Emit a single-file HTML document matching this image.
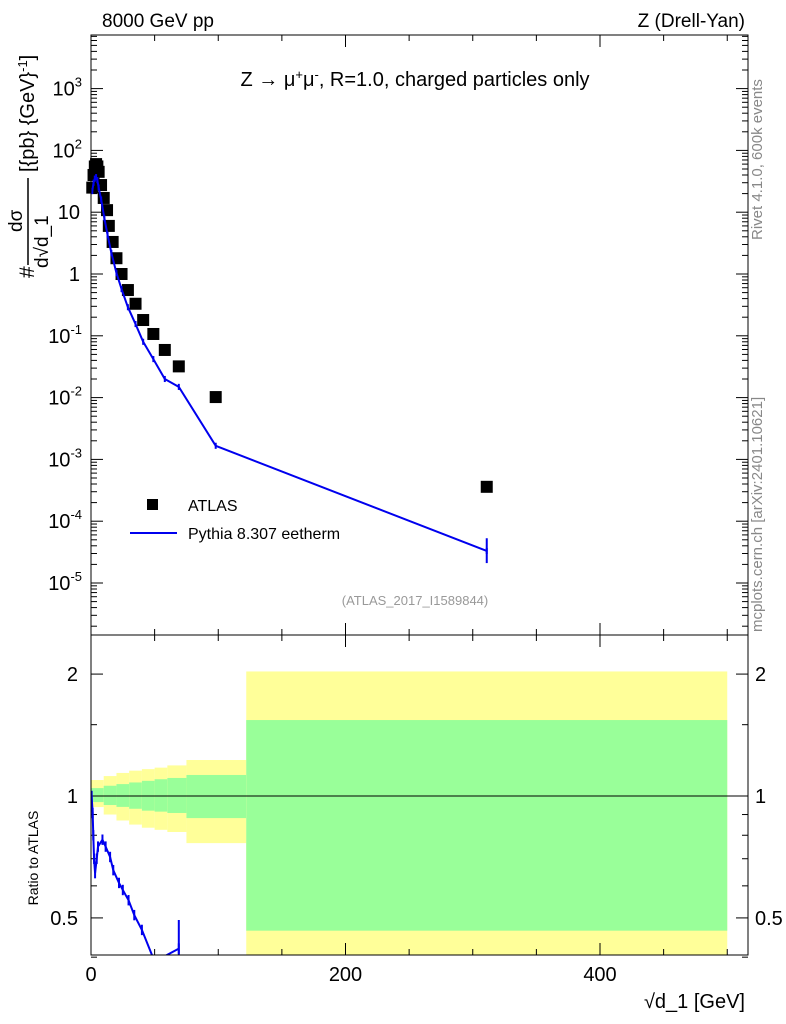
<!DOCTYPE html>
<html><head><meta charset="utf-8"><style>
body{margin:0;background:#fff;}
svg{display:block;font-family:"Liberation Sans",sans-serif;}
</style></head><body>
<svg id="c" width="786" height="1024" viewBox="0 0 786 1024">
<g id="bands"></g>
<g id="ticks"></g>
<g id="marks"></g>
<rect x="91" y="35" width="657" height="600" fill="none" stroke="#000" stroke-width="1"/>
<rect x="91" y="635" width="657" height="320" fill="none" stroke="#000" stroke-width="1"/>
<text x="102" y="27" font-size="19">8000 GeV pp</text>
<text x="745" y="27" font-size="19" text-anchor="end">Z (Drell-Yan)</text>
<text x="415" y="86" font-size="20" text-anchor="middle">Z → μ<tspan font-size="13" dy="-7">+</tspan><tspan dy="7">μ</tspan><tspan font-size="13" dy="-7">-</tspan><tspan dy="7">, R=1.0, charged particles only</tspan></text>
<text x="415" y="605" font-size="13" fill="#999" text-anchor="middle">(ATLAS_2017_I1589844)</text>
<text transform="translate(762,240) rotate(-90)" font-size="15" fill="#888">Rivet 4.1.0,  600k events</text>
<text transform="translate(762,632) rotate(-90)" font-size="15" fill="#888">mcplots.cern.ch [arXiv:2401.10621]</text>
<g>
<text transform="translate(34,278) rotate(-90)" font-size="21">#</text>
<text transform="translate(22,232) rotate(-90)" font-size="19">dσ</text>
<line x1="28" y1="265" x2="28" y2="178" stroke="#000" stroke-width="1.5"/>
<text transform="translate(48,268) rotate(-90)" font-size="19">d√d_1</text>
<text transform="translate(34,172) rotate(-90)" font-size="20">[{pb} {GeV}<tspan font-size="13" dy="-7">-1</tspan><tspan dy="7">]</tspan></text>
</g>
<text transform="translate(38,858) rotate(-90)" font-size="14" text-anchor="middle">Ratio to ATLAS</text>
<text x="745" y="1008" font-size="20" text-anchor="end">√d_1 [GeV]</text>
<g>
<rect x="147" y="499" width="11" height="11" fill="#000"/>
<text x="188" y="511" font-size="16">ATLAS</text>
<line x1="130" y1="533" x2="177" y2="533" stroke="#0000ee" stroke-width="2"/>
<text x="188" y="539" font-size="16">Pythia 8.307 eetherm</text>
</g>
</svg>
<script>
const dataX=[1,2,3,4,5,6,7.9,10,12.6,14,17,20,24,29,35,41,49,58,69,98,311];
const dataY=[25,40,55,60,55,45,27.5,17,10.8,6,3.3,1.8,1.0,0.55,0.33,0.18,0.107,0.059,0.032,0.0102,3.6e-4];
const mcX=[1,2,3,4,5,6,8,10.5,13,16,20,24,29,35,41,49,58,69,98,311];
const mcY=[22,30,35,37,33,25,16,8.0,4.3,2.2,1.04,0.57,0.29,0.155,0.08,0.042,0.020,0.0149,0.00166,3.3e-5];
const ratioX=[0.5,1.3,1.8,2.4,3.2,4.5,5.5,9,11.5,15,17.5,22,25,29.5,34,40,50,69];
const ratioY=[1.0,0.908,0.80,0.70,0.645,0.70,0.75,0.78,0.75,0.707,0.656,0.61,0.586,0.553,0.508,0.467,0.39,0.42];
const bandEdges=[0,10,20,30,40,50,60,75,122,500];
const yelUp=[1.095,1.12,1.14,1.155,1.165,1.175,1.19,1.227,2.03];
const grnUp=[1.046,1.06,1.07,1.08,1.09,1.10,1.108,1.127,1.54];
const grnLo=[0.966,0.95,0.94,0.93,0.92,0.915,0.908,0.882,0.465];
const yelLo=[0.939,0.90,0.87,0.85,0.835,0.825,0.815,0.765,0.30];
const mainTicks=[3,2,1,0,-1,-2,-3,-4,-5];
const xTicks=[0,200,400];
const ratioTicks=[2,1,0.5];
const NS='http://www.w3.org/2000/svg';
const X=v=>91+v*1.2725;
const Y=v=>274-Math.log10(v)*61.8;
const R=v=>796-Math.log10(v)*405;
function el(t,a,p){const e=document.createElementNS(NS,t);for(const k in a)e.setAttribute(k,a[k]);(p||document.getElementById('marks')).appendChild(e);return e;}
const bands=document.getElementById('bands');
for(let i=0;i<bandEdges.length-1;i++){
 const x0=X(bandEdges[i]),x1=Math.min(X(bandEdges[i+1]),X(500));
 const top=Math.max(R(yelUp[i]),635),bot=Math.min(R(yelLo[i]),955);
 const y=el('rect',{x:x0,y:top,width:x1-x0,height:bot-top,fill:'#ffff99'},bands);
 
 
 const g=el('rect',{x:x0,y:R(grnUp[i]),width:x1-x0,height:R(grnLo[i])-R(grnUp[i]),fill:'#99ff99'},bands);
 
 
}
const tk=document.getElementById('ticks');
el('line',{x1:91,y1:796,x2:748,y2:796,stroke:'#000'},tk);
mainTicks.forEach(p=>{
 const y=Y(Math.pow(10,p));
 el('line',{x1:91,y1:y,x2:103,y2:y,stroke:'#000'},tk);el('line',{x1:736,y1:y,x2:748,y2:y,stroke:'#000'},tk);
 for(let m=2;m<10;m++){const ym=Y(m*Math.pow(10,p));if(ym>35){el('line',{x1:91,y1:ym,x2:97,y2:ym,stroke:'#000'},tk);el('line',{x1:742,y1:ym,x2:748,y2:ym,stroke:'#000'},tk);}}
 const t=el('text',{x:80,y:y+7,'font-size':20,'text-anchor':'end'},tk);
 if(p===0)t.textContent='1';else if(p===1)t.textContent='10';else{t.textContent='10';const s=el('tspan',{'font-size':13,dy:-9},t);s.textContent=p;}
 if(p>=2||p<=-1)t.setAttribute('x',82);
 
 
});
for(let m=2;m<=9;m++){const ym=Y(m*1e-6);if(ym<635){el('line',{x1:91,y1:ym,x2:97,y2:ym,stroke:'#000'},tk);el('line',{x1:742,y1:ym,x2:748,y2:ym,stroke:'#000'},tk);}}
xTicks.forEach(v=>{const x=X(v);
 el('line',{x1:x,y1:635,x2:x,y2:623,stroke:'#000'},tk);el('line',{x1:x,y1:35,x2:x,y2:47,stroke:'#000'},tk);
 el('line',{x1:x,y1:955,x2:x,y2:943,stroke:'#000'},tk);el('line',{x1:x,y1:635,x2:x,y2:647,stroke:'#000'},tk);
 const t=el('text',{x:x,y:981,'font-size':20,'text-anchor':'middle'},tk);t.textContent=v;
 
 });
for(let v=50;v<=500;v+=50){if(v%200){const x=X(v);el('line',{x1:x,y1:635,x2:x,y2:629,stroke:'#000'},tk);el('line',{x1:x,y1:35,x2:x,y2:41,stroke:'#000'},tk);el('line',{x1:x,y1:955,x2:x,y2:949,stroke:'#000'},tk);el('line',{x1:x,y1:635,x2:x,y2:641,stroke:'#000'},tk);}}
ratioTicks.forEach(v=>{const y=R(v);
 el('line',{x1:91,y1:y,x2:103,y2:y,stroke:'#000'},tk);el('line',{x1:736,y1:y,x2:748,y2:y,stroke:'#000'},tk);
 const t=el('text',{x:78,y:y+7,'font-size':20,'text-anchor':'end'},tk);t.textContent=v;
 
 
 const t2=el('text',{x:755,y:y+7,'font-size':20},tk);t2.textContent=v;
 
 });
[0.6,0.7,0.8,0.9,1.5,0.4].forEach(v=>{const y=R(v);el('line',{x1:91,y1:y,x2:97,y2:y,stroke:'#000'},tk);el('line',{x1:742,y1:y,x2:748,y2:y,stroke:'#000'},tk);});
dataX.forEach((x,i)=>{const r=el('rect',{x:X(x)-6,y:Y(dataY[i])-6,width:12,height:12,fill:'#000'});
 
 });
const mc=el('polyline',{points:mcX.map((x,i)=>X(x)+','+Y(mcY[i])).join(' '),fill:'none',stroke:'#0000ee','stroke-width':2});


mcX.forEach((x,i)=>{const e=el('line',{x1:X(x),y1:Y(mcY[i]*1.12),x2:X(x),y2:Y(mcY[i]/1.12),stroke:'#0000ee','stroke-width':2});
 
 });
el('line',{x1:X(311),y1:Y(5.3e-5),x2:X(311),y2:Y(2.1e-5),stroke:'#0000ee','stroke-width':2});
el('defs',{},document.getElementById('c')).innerHTML='<clipPath id="rc"><rect x="91" y="635" width="657" height="320"/></clipPath>';
const rl=el('polyline',{points:ratioX.map((x,i)=>X(x)+','+R(ratioY[i])).join(' '),fill:'none',stroke:'#0000ee','stroke-width':2,'clip-path':'url(#rc)'});


ratioX.forEach((x,i)=>{const e=el('line',{x1:X(x),y1:R(ratioY[i]*1.03),x2:X(x),y2:R(ratioY[i]/1.03),stroke:'#0000ee','stroke-width':2,'clip-path':'url(#rc)'});
 
 });
el('line',{x1:X(69),y1:920,x2:X(69),y2:955,stroke:'#0000ee','stroke-width':2});
</script>
</body></html>
